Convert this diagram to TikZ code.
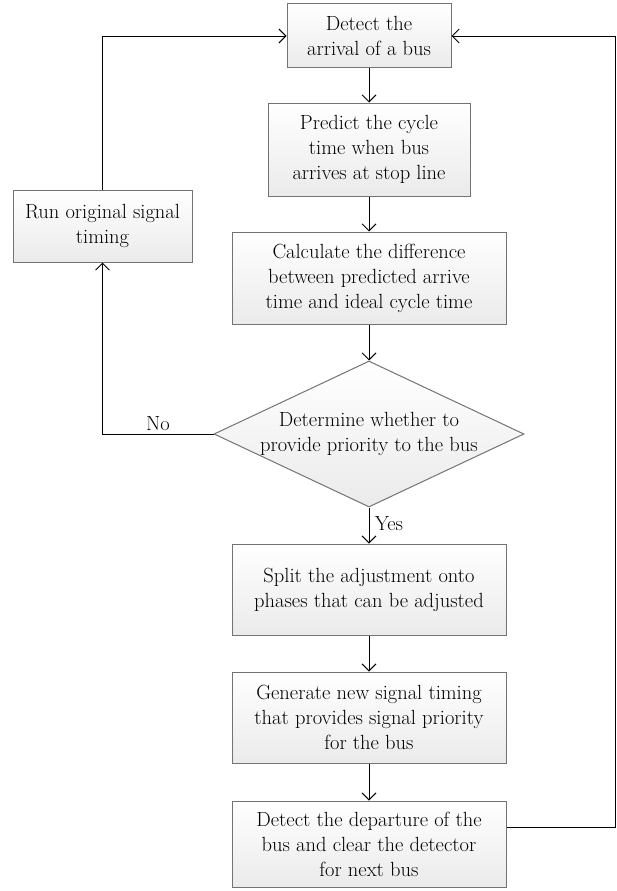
\documentclass[tikz,border=0pt]{standalone}
\usepackage{tikz}
\usetikzlibrary{shapes.geometric, arrows.meta}
\colorlet{edgeGray}{black!55}

\begin{document}
\begin{tikzpicture}[x = 1pt, y = -1pt,
		font = \fontsize{20.5}{25}\selectfont,
		procbox/.style = {draw = edgeGray, line width = 1pt, top color = white, bottom color = black!8, align = center, inner sep = 0pt},
		choice/.style = {diamond, draw = edgeGray, line width = 1pt, top color = white, bottom color = black!8, align = center, inner sep = -22pt, shape aspect = 2.12, minimum width = 310pt, minimum height = 146pt},
		flow/.style = {line width = 0.9pt, -{Straight Barb[length = 7pt, width = 14pt]}}]
		\useasboundingbox (0, 0) rectangle (616, 891);
		%%%%%%%%%%%%%
		\node[procbox, minimum width = 164pt, minimum height = 64pt] (arrive) at (369, 36) {Detect the\\arrival of a bus};
		\node[procbox, minimum width = 202pt, minimum height = 93pt] (predict) at (369, 149.5) {Predict the cycle\\time when bus\\arrives at stop line};
		\node[procbox, minimum width = 274pt, minimum height = 92pt] (calc) at (369, 278) {Calculate the difference\\between predicted arrive\\time and ideal cycle time};
		\node[choice] (decide) at (369, 434) {Determine whether to\\provide priority to the bus};
		\node[procbox, minimum width = 274pt, minimum height = 91pt] (split) at (369, 589.5) {Split the adjustment onto\\phases that can be adjusted};
		\node[procbox, minimum width = 274pt, minimum height = 91pt] (gen) at (369, 717.5) {Generate new signal timing\\that provides signal priority\\for the bus};
		\node[procbox, minimum width = 274pt, minimum height = 86pt] (depart) at (369, 844) {Detect the departure of the\\bus and clear the detector\\for next bus};
		\node[procbox, minimum width = 179pt, minimum height = 72pt] (orig) at (102.5, 226) {Run original signal\\timing};
		\coordinate (back) at (615, 827);
		%%%%%%%%%%%%%
		\draw[flow] (arrive) to (predict); \draw[flow] (predict) to (calc);
		\draw[flow] (calc) to (decide);
		\draw[flow] (decide) to node[right, xshift = 2pt, yshift = 2pt] {Yes} (split);
		\draw[flow] (split) to (gen); \draw[flow] (gen) to (depart);
		\draw[flow] (decide.west) -| node[above, pos = 0.25] {No} (orig.south);
		\draw[flow] (orig.north) |- (arrive.west);
		\draw[flow] (depart.east |- back) -- (back) |- (arrive.east);
\end{tikzpicture}
\end{document}
